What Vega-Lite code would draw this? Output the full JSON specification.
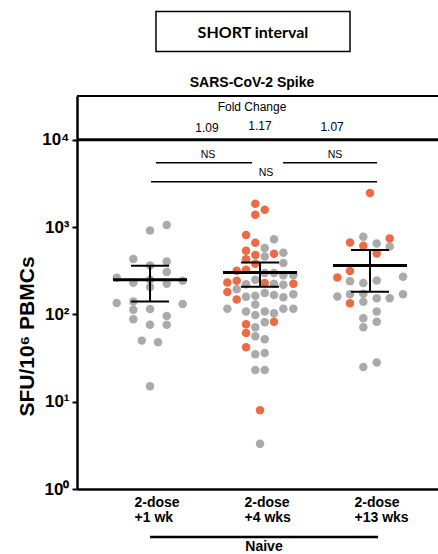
{
  "$schema": "https://vega.github.io/schema/vega-lite/v6.json",
  "width": 361,
  "height": 393,
  "autosize": {"type": "none"},
  "padding": {"left": 77, "top": 96, "right": 0, "bottom": 65},
  "background": "white",
  "config": {"view": {"stroke": null}, "font": "Liberation Sans"},
  "datasets": {
    "points": [
      {"x": 1.0, "y": 912, "h": "no"}, {"x": 1.152, "y": 1053, "h": "no"}, {"x": 0.848, "y": 429, "h": "no"},
      {"x": 1.0, "y": 362, "h": "no"}, {"x": 1.152, "y": 403, "h": "no"}, {"x": 1.152, "y": 305, "h": "no"},
      {"x": 0.697, "y": 262, "h": "no"}, {"x": 0.848, "y": 230, "h": "no"}, {"x": 1.0, "y": 249, "h": "no"},
      {"x": 1.0, "y": 205, "h": "no"}, {"x": 1.152, "y": 224, "h": "no"}, {"x": 1.297, "y": 242, "h": "no"},
      {"x": 0.697, "y": 135, "h": "no"}, {"x": 0.848, "y": 140, "h": "no"}, {"x": 0.848, "y": 113, "h": "no"},
      {"x": 1.0, "y": 115, "h": "no"}, {"x": 1.297, "y": 131, "h": "no"}, {"x": 0.848, "y": 88, "h": "no"},
      {"x": 1.152, "y": 96, "h": "no"}, {"x": 1.0, "y": 76, "h": "no"}, {"x": 1.152, "y": 76, "h": "no"},
      {"x": 0.925, "y": 50, "h": "no"}, {"x": 1.073, "y": 48, "h": "no"}, {"x": 1.0, "y": 15, "h": "no"},

      {"x": 2.127, "y": 722, "h": "no"}, {"x": 2.043, "y": 574, "h": "no"}, {"x": 2.043, "y": 458, "h": "no"},
      {"x": 2.212, "y": 507, "h": "no"}, {"x": 2.212, "y": 386, "h": "no"}, {"x": 2.043, "y": 297, "h": "no"},
      {"x": 2.127, "y": 297, "h": "no"}, {"x": 2.212, "y": 281, "h": "no"}, {"x": 2.303, "y": 281, "h": "no"},
      {"x": 1.957, "y": 249, "h": "no"}, {"x": 1.873, "y": 221, "h": "no"}, {"x": 2.127, "y": 224, "h": "no"},
      {"x": 2.212, "y": 218, "h": "no"}, {"x": 1.788, "y": 194, "h": "no"}, {"x": 2.043, "y": 175, "h": "no"},
      {"x": 2.127, "y": 167, "h": "no"}, {"x": 2.212, "y": 157, "h": "no"}, {"x": 2.303, "y": 170, "h": "no"},
      {"x": 1.873, "y": 159, "h": "no"}, {"x": 1.957, "y": 163, "h": "no"}, {"x": 1.957, "y": 130, "h": "no"},
      {"x": 1.703, "y": 116, "h": "no"}, {"x": 1.873, "y": 108, "h": "no"}, {"x": 1.957, "y": 98, "h": "no"},
      {"x": 2.043, "y": 108, "h": "no"}, {"x": 2.127, "y": 103, "h": "no"}, {"x": 2.212, "y": 116, "h": "no"},
      {"x": 2.303, "y": 116, "h": "no"}, {"x": 2.043, "y": 81, "h": "no"}, {"x": 1.957, "y": 71, "h": "no"},
      {"x": 1.957, "y": 56, "h": "no"}, {"x": 2.043, "y": 52, "h": "no"}, {"x": 1.957, "y": 35, "h": "no"},
      {"x": 2.043, "y": 36, "h": "no"}, {"x": 1.957, "y": 23, "h": "no"}, {"x": 2.043, "y": 23, "h": "no"},
      {"x": 2.0, "y": 3.3, "h": "no"},
      {"x": 1.957, "y": 1847, "h": "yes"}, {"x": 2.043, "y": 1577, "h": "yes"}, {"x": 1.957, "y": 1382, "h": "yes"},
      {"x": 1.873, "y": 808, "h": "yes"}, {"x": 1.957, "y": 660, "h": "yes"}, {"x": 1.873, "y": 534, "h": "yes"},
      {"x": 1.957, "y": 477, "h": "yes"}, {"x": 2.127, "y": 494, "h": "yes"}, {"x": 1.873, "y": 427, "h": "yes"},
      {"x": 1.957, "y": 379, "h": "yes"}, {"x": 1.788, "y": 315, "h": "yes"}, {"x": 1.873, "y": 324, "h": "yes"},
      {"x": 1.703, "y": 231, "h": "yes"}, {"x": 1.788, "y": 242, "h": "yes"}, {"x": 2.043, "y": 228, "h": "yes"},
      {"x": 2.303, "y": 224, "h": "yes"}, {"x": 1.703, "y": 180, "h": "yes"}, {"x": 1.788, "y": 148, "h": "yes"},
      {"x": 1.873, "y": 77, "h": "yes"}, {"x": 1.873, "y": 61, "h": "yes"}, {"x": 2.127, "y": 82, "h": "yes"},
      {"x": 1.873, "y": 42, "h": "yes"}, {"x": 2.0, "y": 8.0, "h": "yes"},

      {"x": 2.939, "y": 773, "h": "no"}, {"x": 3.061, "y": 648, "h": "no"}, {"x": 3.179, "y": 598, "h": "no"},
      {"x": 2.818, "y": 240, "h": "no"}, {"x": 2.939, "y": 228, "h": "no"}, {"x": 3.061, "y": 244, "h": "no"},
      {"x": 3.3, "y": 269, "h": "no"}, {"x": 2.703, "y": 160, "h": "no"}, {"x": 2.818, "y": 170, "h": "no"},
      {"x": 2.939, "y": 172, "h": "no"}, {"x": 2.939, "y": 139, "h": "no"}, {"x": 3.061, "y": 153, "h": "no"},
      {"x": 3.179, "y": 153, "h": "no"}, {"x": 3.3, "y": 170, "h": "no"}, {"x": 3.061, "y": 108, "h": "no"},
      {"x": 2.939, "y": 90, "h": "no"}, {"x": 3.061, "y": 82, "h": "no"}, {"x": 2.939, "y": 71, "h": "no"},
      {"x": 2.939, "y": 25, "h": "no"}, {"x": 3.061, "y": 28, "h": "no"},
      {"x": 3.0, "y": 2449, "h": "yes"}, {"x": 2.818, "y": 665, "h": "yes"}, {"x": 2.939, "y": 610, "h": "yes"},
      {"x": 3.179, "y": 739, "h": "yes"}, {"x": 3.061, "y": 497, "h": "yes"}, {"x": 2.818, "y": 313, "h": "yes"},
      {"x": 2.703, "y": 264, "h": "yes"}, {"x": 2.818, "y": 134, "h": "yes"}
    ],
    "stats": [
      {"x": 1, "mean": 249, "lo": 140, "hi": 360},
      {"x": 2, "mean": 301, "lo": 207, "hi": 392},
      {"x": 3, "mean": 362, "lo": 181, "hi": 544}
    ],
    "brackets": [
      {"x": 1.054, "x2": 1.927, "y": 5450},
      {"x": 2.209, "x2": 3.064, "y": 5450},
      {"x": 1.009, "x2": 3.064, "y": 3300}
    ],
    "ns": [
      {"x": 1.527, "y": 6730, "label": "NS"},
      {"x": 2.682, "y": 6730, "label": "NS"},
      {"x": 2.055, "y": 4185, "label": "NS"}
    ],
    "fold": [
      {"x": 1.927, "y": 23880, "label": "Fold Change"},
      {"x": 1.518, "y": 13740, "label": "1.09"},
      {"x": 2.0, "y": 14500, "label": "1.17"},
      {"x": 2.655, "y": 14100, "label": "1.07"}
    ],
    "title": [{"x": 1.927, "y": 44980, "label": "SARS-CoV-2 Spike"}],
    "box": [{"x": 1.054, "x2": 2.818, "y": 102000, "y2": 293000}],
    "boxtext": [{"x": 1.936, "y": 168300, "label": "SHORT interval"}],
    "naive": [{"x": 1.0, "x2": 3.073, "y": 0.282}],
    "naivetext": [{"x": 2.036, "y": 0.215, "label": "Naive"}],
    "top": [{"y": 31623}],
    "ten4": [{"y": 10000}]
  },
  "layer": [
    {
      "data": {"name": "points"},
      "mark": {"type": "circle", "size": 72, "opacity": 1},
      "encoding": {
        "x": {"field": "x", "type": "quantitative", "scale": {"domain": [0.336, 3.618], "nice": false, "zero": false},
          "axis": {"values": [1, 2, 3], "ticks": false, "labelExpr": "[['2-dose','+1 wk'],['2-dose','+4 wks'],['2-dose','+13 wks']][round(datum.value)-1]",
            "labelAlign": "left", "labelOffset": -16, "labelBaseline": "top", "labelPadding": 6, "labelFontSize": 14, "labelFontWeight": "bold",
            "labelFont": "Liberation Sans", "labelColor": "black", "labelLineHeight": 15, "labelFlush": false, "labelOverlap": false,
            "domainColor": "black", "domainWidth": 2.5, "grid": false, "title": null}},
        "y": {"field": "y", "type": "quantitative", "scale": {"type": "log", "domain": [1, 31623], "nice": false},
          "axis": {"values": [1, 10, 100, 1000, 10000], "labelExpr": "'10' + ['⁰','¹','²','³','⁴'][round(log(datum.value)/LN10)]",
            "labelFont": "Liberation Sans", "labelFontWeight": "bold", "labelFontSize": 17, "labelColor": "black", "labelPadding": 3,
            "tickColor": "black", "tickSize": 5, "tickWidth": 2, "domainColor": "black", "domainWidth": 2.5, "grid": false,
            "title": "SFU/10⁶ PBMCs", "titleFont": "Liberation Sans", "titleFontWeight": "bold", "titleFontSize": 21, "titleColor": "black",
            "titleX": -50, "titleY": 240, "titleAngle": -90, "titleAlign": "center", "titleBaseline": "middle"}},
        "color": {"field": "h", "type": "nominal", "scale": {"domain": ["no", "yes"], "range": ["#aaaaaa", "#ec6a46"]}, "legend": null}
      }
    },
    {
      "data": {"name": "top"},
      "mark": {"type": "rule", "color": "black", "strokeWidth": 2},
      "encoding": {"y": {"field": "y", "type": "quantitative", "scale": {"type": "log", "domain": [1, 31623], "nice": false}}}
    },
    {
      "data": {"name": "ten4"},
      "mark": {"type": "rule", "color": "black", "strokeWidth": 3},
      "encoding": {"y": {"field": "y", "type": "quantitative", "scale": {"type": "log", "domain": [1, 31623], "nice": false}}}
    },
    {
      "data": {"name": "stats"},
      "mark": {"type": "rule", "color": "black", "strokeWidth": 2},
      "encoding": {
        "x": {"field": "x", "type": "quantitative", "scale": {"domain": [0.336, 3.618], "nice": false, "zero": false}},
        "y": {"field": "lo", "type": "quantitative", "scale": {"type": "log", "domain": [1, 31623], "nice": false}},
        "y2": {"field": "hi"}
      }
    },
    {
      "data": {"name": "stats"},
      "mark": {"type": "tick", "orient": "horizontal", "color": "black", "size": 74, "thickness": 3, "opacity": 1},
      "encoding": {
        "x": {"field": "x", "type": "quantitative", "scale": {"domain": [0.336, 3.618], "nice": false, "zero": false}},
        "y": {"field": "mean", "type": "quantitative", "scale": {"type": "log", "domain": [1, 31623], "nice": false}}
      }
    },
    {
      "data": {"name": "stats"},
      "mark": {"type": "tick", "orient": "horizontal", "color": "black", "size": 38, "thickness": 2, "opacity": 1},
      "encoding": {
        "x": {"field": "x", "type": "quantitative", "scale": {"domain": [0.336, 3.618], "nice": false, "zero": false}},
        "y": {"field": "lo", "type": "quantitative", "scale": {"type": "log", "domain": [1, 31623], "nice": false}}
      }
    },
    {
      "data": {"name": "stats"},
      "mark": {"type": "tick", "orient": "horizontal", "color": "black", "size": 38, "thickness": 2, "opacity": 1},
      "encoding": {
        "x": {"field": "x", "type": "quantitative", "scale": {"domain": [0.336, 3.618], "nice": false, "zero": false}},
        "y": {"field": "hi", "type": "quantitative", "scale": {"type": "log", "domain": [1, 31623], "nice": false}}
      }
    },
    {
      "data": {"name": "brackets"},
      "mark": {"type": "rule", "color": "black", "strokeWidth": 1.5},
      "encoding": {
        "x": {"field": "x", "type": "quantitative", "scale": {"domain": [0.336, 3.618], "nice": false, "zero": false}},
        "x2": {"field": "x2"},
        "y": {"field": "y", "type": "quantitative", "scale": {"type": "log", "domain": [1, 31623], "nice": false}}
      }
    },
    {
      "data": {"name": "ns"},
      "mark": {"type": "text", "fontSize": 10.5, "font": "Liberation Sans", "color": "black"},
      "encoding": {
        "x": {"field": "x", "type": "quantitative", "scale": {"domain": [0.336, 3.618], "nice": false, "zero": false}},
        "y": {"field": "y", "type": "quantitative", "scale": {"type": "log", "domain": [1, 31623], "nice": false}},
        "text": {"field": "label"}
      }
    },
    {
      "data": {"name": "fold"},
      "mark": {"type": "text", "fontSize": 12, "font": "Liberation Sans", "color": "black"},
      "encoding": {
        "x": {"field": "x", "type": "quantitative", "scale": {"domain": [0.336, 3.618], "nice": false, "zero": false}},
        "y": {"field": "y", "type": "quantitative", "scale": {"type": "log", "domain": [1, 31623], "nice": false}},
        "text": {"field": "label"}
      }
    },
    {
      "data": {"name": "title"},
      "mark": {"type": "text", "fontSize": 14, "fontWeight": "bold", "font": "Liberation Sans", "color": "black"},
      "encoding": {
        "x": {"field": "x", "type": "quantitative", "scale": {"domain": [0.336, 3.618], "nice": false, "zero": false}},
        "y": {"field": "y", "type": "quantitative", "scale": {"type": "log", "domain": [1, 31623], "nice": false}},
        "text": {"field": "label"}
      }
    },
    {
      "data": {"name": "box"},
      "mark": {"type": "rect", "fill": "white", "stroke": "black", "strokeWidth": 1.5},
      "encoding": {
        "x": {"field": "x", "type": "quantitative", "scale": {"domain": [0.336, 3.618], "nice": false, "zero": false}},
        "x2": {"field": "x2"},
        "y": {"field": "y", "type": "quantitative", "scale": {"type": "log", "domain": [1, 31623], "nice": false}},
        "y2": {"field": "y2"}
      }
    },
    {
      "data": {"name": "boxtext"},
      "mark": {"type": "text", "fontSize": 16, "fontWeight": "bold", "font": "Lato", "color": "black"},
      "encoding": {
        "x": {"field": "x", "type": "quantitative", "scale": {"domain": [0.336, 3.618], "nice": false, "zero": false}},
        "y": {"field": "y", "type": "quantitative", "scale": {"type": "log", "domain": [1, 31623], "nice": false}},
        "text": {"field": "label"}
      }
    },
    {
      "data": {"name": "naive"},
      "mark": {"type": "rule", "color": "black", "strokeWidth": 2.5},
      "encoding": {
        "x": {"field": "x", "type": "quantitative", "scale": {"domain": [0.336, 3.618], "nice": false, "zero": false}},
        "x2": {"field": "x2"},
        "y": {"field": "y", "type": "quantitative", "scale": {"type": "log", "domain": [1, 31623], "nice": false}}
      }
    },
    {
      "data": {"name": "naivetext"},
      "mark": {"type": "text", "fontSize": 14, "fontWeight": "bold", "font": "Liberation Sans", "color": "black"},
      "encoding": {
        "x": {"field": "x", "type": "quantitative", "scale": {"domain": [0.336, 3.618], "nice": false, "zero": false}},
        "y": {"field": "y", "type": "quantitative", "scale": {"type": "log", "domain": [1, 31623], "nice": false}},
        "text": {"field": "label"}
      }
    }
  ]
}
